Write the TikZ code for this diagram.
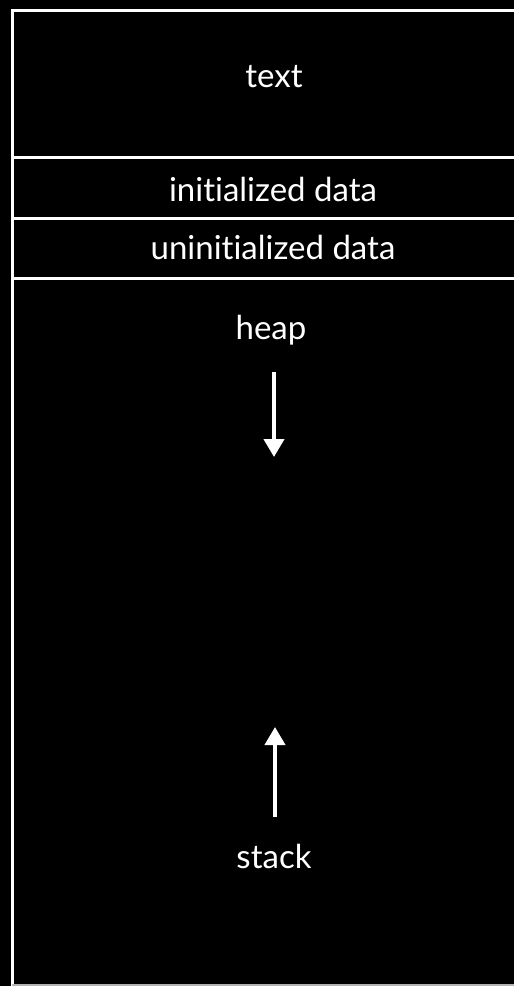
\documentclass[tikz,border=0pt]{standalone}
\usepackage{fontspec}
\setmainfont[Ligatures=NoCommon]{Lato}
\usetikzlibrary{arrows.meta}
\begin{document}
\begin{tikzpicture}[x=1pt,y=-1pt,
  wline/.style={draw=white,line width=3pt},
  lbl/.style={text=white,font=\fontsize{33}{36}\selectfont,inner sep=0pt,anchor=base},
  warrow/.style={draw=white,line width=4pt,-{Triangle[width=20pt,length=18pt]}}]
\fill[black] (0,0) rectangle (514,986);
\useasboundingbox (0,0) rectangle (514,986);
\draw[wline] (12,986) -- (12,10) -- (514,10);
\draw[wline] (12,157) -- (514,157);
\draw[wline] (12,218) -- (514,218);
\draw[wline] (12,278) -- (514,278);
\draw[draw=gray!60,line width=1.5pt] (12,985) -- (514,985);
\node[lbl] (t) at (274,87) {text};
\node[lbl] (id) at (273,201) {initialized data};
\node[lbl] (ud) at (273,259) {uninitialized data};
\node[lbl] (heap) at (271,339) {heap};
\node[lbl] (stack) at (274,868) {stack};
\coordinate (d1) at (274,372);
\coordinate (d2) at (274,457);
\coordinate (u1) at (275,817);
\coordinate (u2) at (275,727);
\draw[warrow] (d1) -- (d2);
\draw[warrow] (u1) -- (u2);
\end{tikzpicture}
\end{document}
